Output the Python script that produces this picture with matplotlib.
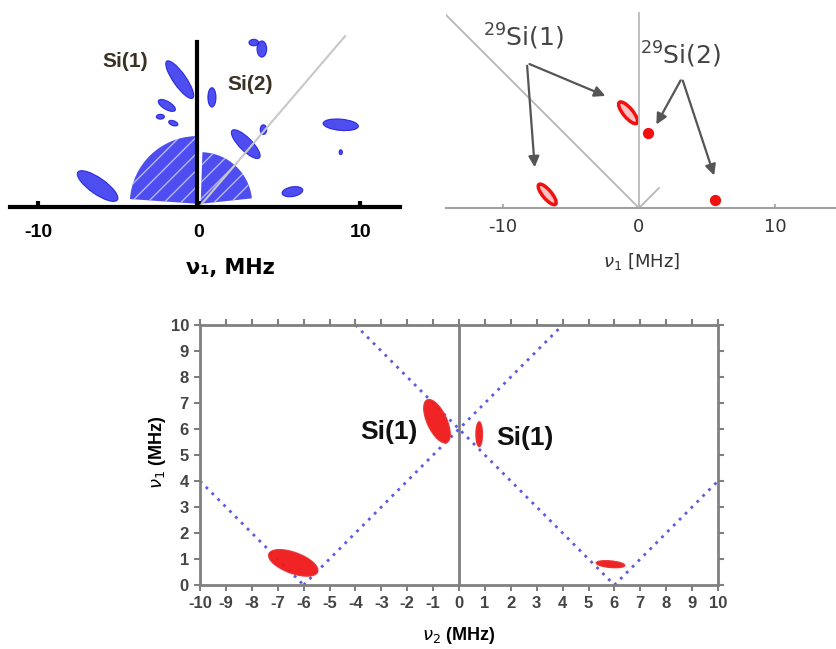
import matplotlib.pyplot as plt
from matplotlib.patches import Ellipse, Wedge

plt.rcParams['font.family'] = ['Liberation Sans', 'DejaVu Sans']

# ---- top left: blue spectrum (nu1, MHz)
tl_ticks = [-10, 0, 10]
tl_cx = [-6.3, -1.2, -2.0, 0.8, 2.9, 4.0, 3.4, 3.9, 8.8, 5.8, 8.8, -2.4, -1.6]
tl_cy = [1.3, 7.9, 6.3, 6.8, 3.9, 4.8, 10.2, 9.8, 5.1, 0.95, 3.4, 5.6, 5.2]
tl_w = [3.0, 2.8, 1.2, 0.5, 2.4, 0.4, 0.6, 0.6, 2.2, 1.3, 0.2, 0.5, 0.6]
tl_h = [1.0, 0.8, 0.5, 1.2, 0.8, 0.6, 0.4, 1.0, 0.7, 0.6, 0.3, 0.3, 0.3]
tl_ang = [-35, -55, -30, 0, -45, 0, 0, 0, -5, 10, 0, 0, -20]
# fan-shaped regions near the origin: centre x, radius, start / end angle
fan_x = [-0.1, 0.1]
fan_r = [4.2, 3.2]
fan_t0 = [92, 6]
fan_t1 = [176, 88]
tl_labels = ['Si(1)', 'Si(2)']
tl_lab_x = [-4.6, 3.2]
tl_lab_y = [9.0, 7.6]
tl_diag_x = [0, 9.07]
tl_diag_y = [0, 10.6]

# ---- top right: red contours (nu1 [MHz])
tr_ticks = [-10, 0, 10]
tr_cx = [-6.75, -0.8]
tr_cy = [1.0, 7.0]
tr_w = [1.9, 2.0]
tr_h = [0.65, 0.7]
tr_ang = [-50, -50]
tr_dot_x = [0.66, 5.6]
tr_dot_y = [5.5, 0.59]
tr_labels = ['$^{29}$Si(1)', '$^{29}$Si(2)']
tr_lab_x = [-8.46, 3.09]
tr_lab_y = [12.57, 11.25]
tr_arrow_from = [(-8.24, 10.66), (-8.24, 10.66), (3.16, 9.56), (3.16, 9.56)]
tr_arrow_to = [(-2.28, 8.16), (-7.65, 2.79), (1.18, 5.96), (5.59, 2.2)]

# ---- bottom: nu2 vs nu1 (MHz)
b_ticks = list(range(-10, 11))
b_yticks = list(range(0, 11))
b_cx = [-0.85, 0.78, -6.4, 5.85]
b_cy = [6.3, 5.8, 0.85, 0.8]
b_w = [1.8, 0.25, 2.0, 1.1]
b_h = [0.75, 0.95, 0.8, 0.25]
b_ang = [115, 0, -20, -5]
b_lines = [([-4, 6], [10, 0]), ([-10, -6], [4, 0]), ([-6, 4], [0, 10]), ([6, 10], [0, 4])]
b_labels = ['Si(1)', 'Si(1)']
b_lab_x = [-2.7, 2.55]
b_lab_y = [5.9, 5.65]

W, H = 836, 649
fig = plt.figure(figsize=(W / 100, H / 100), dpi=100)


def px_axes(x0, y0, x1, y1):
    return fig.add_axes([x0 / W, 1 - y1 / H, (x1 - x0) / W, (y1 - y0) / H])


# top left
ax1 = px_axes(10, 20, 400, 207)
ax1.set_xlim(-11.74, 12.48)
ax1.set_ylim(0, 11.6)
for s in ['top', 'right', 'left']:
    ax1.spines[s].set_visible(False)
ax1.spines['bottom'].set_linewidth(3)
ax1.set_yticks([])
ax1.set_xticks(tl_ticks)
ax1.set_xticklabels([str(t) for t in tl_ticks], fontsize=14, fontweight='bold')
ax1.tick_params(axis='x', direction='in', length=4, width=3, pad=12)
for x, r, t0, t1 in zip(fan_x, fan_r, fan_t0, fan_t1):
    ax1.add_patch(Wedge((x, 0.2), r, t0, t1, facecolor='#2f2fee', edgecolor='#c8c8ff',
                        hatch='//', lw=0, alpha=0.85, zorder=2))
ax1.plot(tl_diag_x, tl_diag_y, color='#c8c8c8', lw=1.5, zorder=2.5)
for cx, cy, w, h, a in zip(tl_cx, tl_cy, tl_w, tl_h, tl_ang):
    ax1.add_patch(Ellipse((cx, cy), w, h, angle=a, facecolor='#2f2fee', edgecolor='#1a1ad8',
                          alpha=0.85, lw=0.8, zorder=2))
ax1.plot([-0.1, -0.1], [0, 10.25], color='black', lw=3, zorder=3)
for t, x, y in zip(tl_labels, tl_lab_x, tl_lab_y):
    ax1.text(x, y, t, fontsize=15, fontweight='bold', color='#3b3226', ha='center', va='center')
fig.text(230 / W, 1 - 268 / H, 'ν₁, MHz', fontsize=15, fontweight='bold',
         family=['DejaVu Sans'], ha='center', va='center')

# top right
ax2 = px_axes(446, 0, 836, 208)
ax2.set_xlim(-14.19, 14.49)
ax2.set_ylim(0, 15.29)
for s in ['top', 'right', 'left']:
    ax2.spines[s].set_visible(False)
ax2.spines['bottom'].set_color('#a0a0a0')
ax2.spines['bottom'].set_linewidth(1.5)
ax2.set_yticks([])
ax2.set_xticks(tr_ticks)
ax2.set_xticklabels([str(t) for t in tr_ticks], fontsize=13, color='#333333', family=['DejaVu Sans'])
ax2.tick_params(axis='x', direction='in', length=3, width=1.2, color='#a0a0a0', pad=7)
ax2.plot([-14.2, 0], [14.2, 0], color='#b8b8b8', lw=1.3)
ax2.plot([0, 1.47], [0, 1.47], color='#b8b8b8', lw=1.3)
ax2.plot([0, 0], [0, 14.3], color='#bbbbbb', lw=1.3)
for cx, cy, w, h, a in zip(tr_cx, tr_cy, tr_w, tr_h, tr_ang):
    ax2.add_patch(Ellipse((cx, cy), w, h, angle=a, facecolor='#ffc0c0', edgecolor='#f01010', lw=2.5))
ax2.scatter(tr_dot_x, tr_dot_y, s=50, color='#f01010', zorder=3)
for (x0, y0), (x1, y1) in zip(tr_arrow_from, tr_arrow_to):
    ax2.annotate('', xy=(x1, y1), xytext=(x0, y0),
                 arrowprops=dict(arrowstyle='-|>', color='#555555', lw=1.6, mutation_scale=16))
for t, x, y in zip(tr_labels, tr_lab_x, tr_lab_y):
    ax2.text(x, y, t, fontsize=18, color='#444444', ha='center', va='center', family=['DejaVu Sans'])
fig.text(642 / W, 1 - 262 / H, r'$\nu_1$ [MHz]', fontsize=13, color='#333333',
         family=['DejaVu Sans'], ha='center', va='center')

# bottom
ax3 = px_axes(200, 325, 718, 585)
ax3.set_xlim(-10, 10)
ax3.set_ylim(0, 10)
for s in ax3.spines.values():
    s.set_color('#808080')
    s.set_linewidth(2)
ax3.set_xticks(b_ticks)
ax3.set_yticks(b_yticks)
ax3.set_xticklabels([str(t) for t in b_ticks], fontsize=12, fontweight='bold', color='#444444')
ax3.set_yticklabels([str(t) for t in b_yticks], fontsize=12, fontweight='bold', color='#444444')
ax3.tick_params(direction='out', length=4, width=1.5, color='#808080', top=True, right=True, pad=4)
ax3.axvline(0, color='#808080', lw=2)
for xs, ys in b_lines:
    ax3.plot(xs, ys, color='#5a5ae6', lw=2, linestyle=(0, (1, 2)))
for cx, cy, w, h, a in zip(b_cx, b_cy, b_w, b_h, b_ang):
    ax3.add_patch(Ellipse((cx, cy), w, h, angle=a, facecolor='#f01818', edgecolor='#e83030',
                          lw=1, alpha=0.95, zorder=3))
for t, x, y in zip(b_labels, b_lab_x, b_lab_y):
    ax3.text(x, y, t, fontsize=19, fontweight='bold', color='#111111', ha='center', va='center')
fig.text(459 / W, 1 - 636 / H, r'$\nu_2$ (MHz)', fontsize=13, fontweight='bold',
         ha='center', va='center')
fig.text(158 / W, 1 - 452 / H, r'$\nu_1$ (MHz)', fontsize=13, fontweight='bold',
         rotation=90, ha='center', va='center')

fig.savefig('out.png', dpi=100)
